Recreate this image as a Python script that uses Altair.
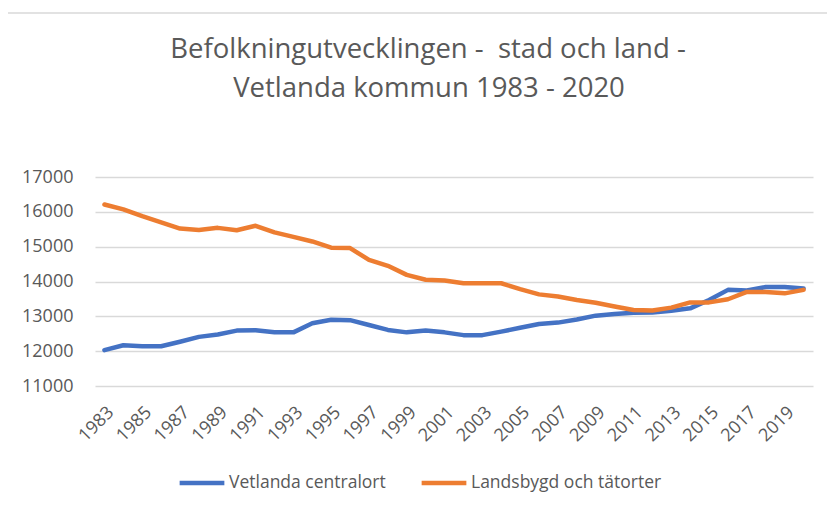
import altair as alt
import pandas as pd

years = [str(y) for y in range(1983, 2021)]
centralort = [12030, 12170, 12140, 12140, 12270, 12410, 12480, 12590, 12600, 12540,
              12540, 12800, 12900, 12890, 12750, 12610, 12540, 12590, 12540, 12460,
              12460, 12560, 12670, 12780, 12820, 12910, 13020, 13070, 13100, 13110,
              13160, 13230, 13470, 13760, 13740, 13840, 13840, 13800]
landsbygd = [16210, 16070, 15875, 15700, 15520, 15480, 15540, 15470, 15600, 15410,
             15280, 15150, 14970, 14960, 14620, 14450, 14190, 14050, 14030, 13950,
             13950, 13950, 13780, 13630, 13570, 13470, 13390, 13280, 13180, 13170,
             13250, 13400, 13400, 13490, 13700, 13700, 13660, 13760]
series = ["Vetlanda centralort", "Landsbygd och tätorter"]
colors = ["#4472C4", "#ED7D31"]
title_lines = ["Befolkningutvecklingen - \u00a0stad och land -", "Vetlanda kommun 1983 - 2020"]

rows = []
for i, y in enumerate(years):
    rows.append({"year": y, "serie": series[0], "value": centralort[i]})
    rows.append({"year": y, "serie": series[1], "value": landsbygd[i]})
df = pd.DataFrame(rows)

FONT = "Open Sans"
GRAY = "#595959"

frame = alt.Chart(alt.Data(values=[{}])).mark_rect(
    fill=None, stroke="#d9d9d9", strokeWidth=1.5
).encode(
    x=alt.value(-88), x2=alt.value(900), y=alt.value(-164), y2=alt.value(500)
)

title1 = alt.Chart(alt.Data(values=[{"t": title_lines[0]}])).mark_text(
    fontSize=27.5, font=FONT, color=GRAY, align="center", baseline="alphabetic"
).encode(text="t:N", x=alt.value(333), y=alt.value(-119))
title2 = alt.Chart(alt.Data(values=[{"t": title_lines[1]}])).mark_text(
    fontSize=27.5, font=FONT, color=GRAY, align="center", baseline="alphabetic"
).encode(text="t:N", x=alt.value(334), y=alt.value(-80))

lines = alt.Chart(df).mark_line(strokeWidth=4.5, strokeCap="round", strokeJoin="round").encode(
    x=alt.X("year:O", title=None,
            axis=alt.Axis(labelExpr="toNumber(datum.value) % 2 == 1 ? datum.label : ''",
                          labelAngle=-45, labelFontSize=18, labelColor=GRAY, labelFont=FONT,
                          labelPadding=17, ticks=False, domain=False, grid=False)),
    y=alt.Y("value:Q", title=None,
            scale=alt.Scale(domain=[11000, 17000], nice=False, zero=False),
            axis=alt.Axis(values=[11000, 12000, 13000, 14000, 15000, 16000, 17000],
                          format="d", labelFontSize=18, labelColor=GRAY, labelFont=FONT,
                          labelPadding=22, ticks=False, domain=False,
                          gridColor="#d9d9d9", gridWidth=1.5)),
    color=alt.Color("serie:N", sort=series,
                    scale=alt.Scale(domain=series, range=colors),
                    legend=alt.Legend(title=None, orient="none", direction="horizontal",
                                      legendX=82, legendY=281,
                                      symbolType="stroke", symbolSize=2000,
                                      symbolStrokeWidth=4.5, labelFontSize=17.5,
                                      labelColor=GRAY, labelFont=FONT, labelOffset=2,
                                      labelLimit=400, columnPadding=26)),
    detail="serie:N",
)

chart = alt.layer(frame, title1, title2, lines).properties(
    width=718, height=209,
    padding={"left": 87, "top": 169, "right": 14, "bottom": 114},
    autosize=alt.AutoSizeParams(type="none"),
).configure_view(stroke=None)

chart.save("out.html", embed_options={"renderer": "svg", "actions": False})
